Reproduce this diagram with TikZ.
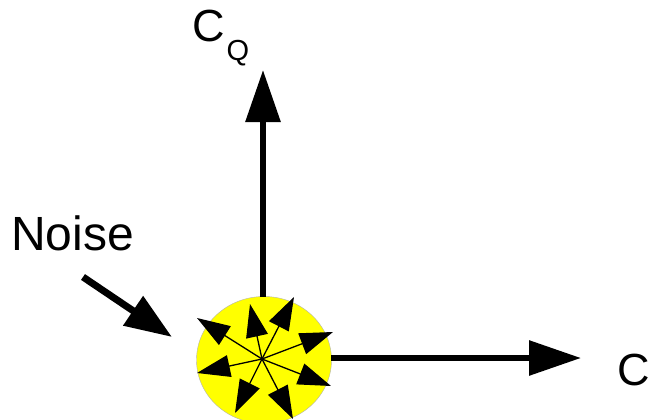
\documentclass[tikz,border=0pt]{standalone}
\usepackage{fontspec}
\setmainfont{Liberation Sans}
\usetikzlibrary{arrows.meta,shapes.geometric}
\definecolor{blobyellow}{RGB}{255,255,0}
\begin{document}
\begin{tikzpicture}[x=1pt,y=-1pt,
  axis/.style={line width=6pt,-{Triangle[length=52pt,width=34pt]}},
  small/.style={line width=1.3pt,-{Triangle[length=33pt,width=22pt]}},
  lbl/.style={inner sep=0pt,anchor=base west}]
\useasboundingbox (0,0) rectangle (651,420);
\clip (0,0) rectangle (651,420);
\node[ellipse,fill=blobyellow,draw=gray!60,line width=0.4pt,minimum width=135pt,minimum height=127pt,inner sep=0pt] (blob) at (264,360) {};
\coordinate (c) at (262,359);
\coordinate (ytip) at (263,70);
\coordinate (xtip) at (581,358);
\draw[axis] (263,297) -- (ytip);
\draw[axis] (331,358) -- (xtip);
% noise arrow
\coordinate (nstart) at (83,277);
\coordinate (ntip) at (172,337);
\draw[line width=7pt,-{Triangle[length=47pt,width=34pt]}] (nstart) -- (ntip);
% small arrows
\coordinate (ta) at (197,318);
\coordinate (tb) at (250,304);
\coordinate (td) at (294,297);
\coordinate (te) at (333,332);
\coordinate (tf) at (197,373);
\coordinate (tg) at (331,386);
\coordinate (th) at (235,413);
\coordinate (ti) at (293,419);
\foreach \n in {a,b,d,e,f,g,h,i}{
  \draw[small] (c) -- (t\n);
}
\node[lbl] (cx) at (617,385) {\fontsize{45}{45}\selectfont C};
\node[lbl] (cq) at (192,42) {\fontsize{45}{45}\selectfont C\kern2pt\raisebox{-19pt}{\fontsize{29}{29}\selectfont Q}};
\node[lbl] (noise) at (11,250) {\fontsize{48}{48}\selectfont Noise};
\end{tikzpicture}
\end{document}
